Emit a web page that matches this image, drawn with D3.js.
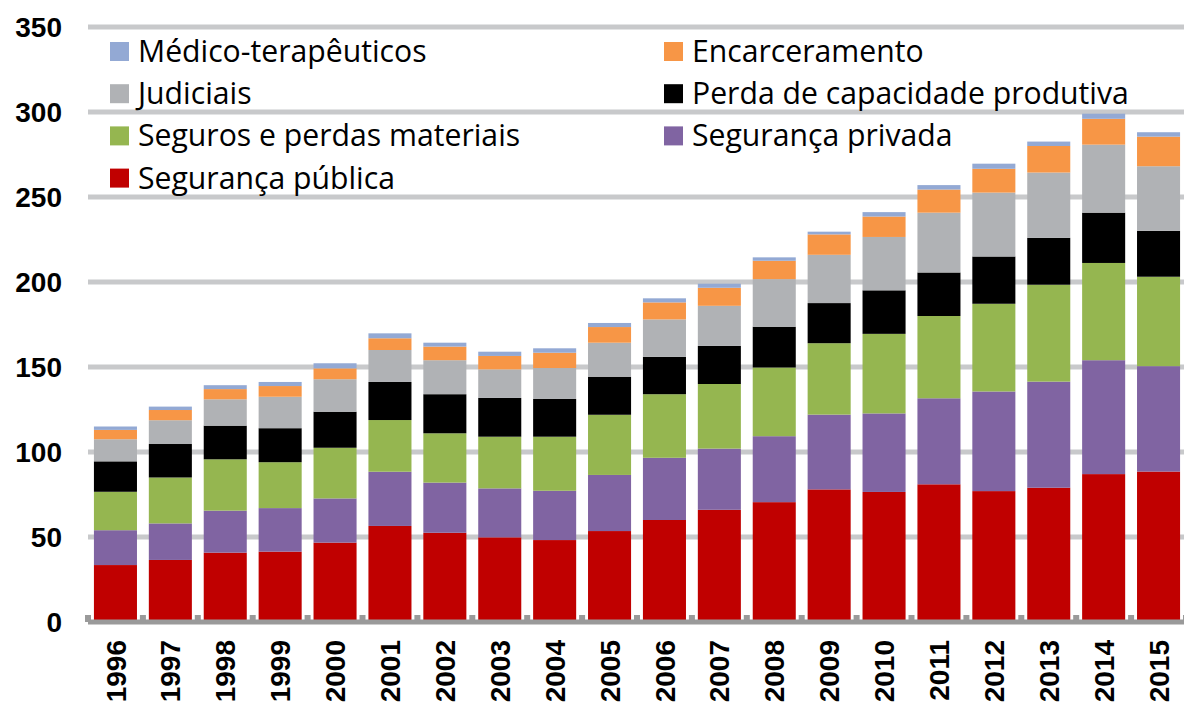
<!DOCTYPE html>
<html>
<head>
<meta charset="utf-8">
<script src="https://cdn.jsdelivr.net/npm/d3@7"></script>
<style>
  body { margin: 0; background: #fff; }
  svg { display: block; }
</style>
</head>
<body>
<svg id="chart" width="1184" height="706"></svg>
<script>
// anos
const years = ["1996", "1997", "1998", "1999", "2000", "2001", "2002", "2003", "2004", "2005",
  "2006", "2007", "2008", "2009", "2010", "2011", "2012", "2013", "2014", "2015"];

// series (bottom to top)
const segPublica = [33.5, 36.5, 40.8, 41.4, 46.7, 56.5, 52.5, 49.8, 48.2, 53.5, 60, 66, 70.5, 78, 76.5, 81, 77, 79, 87, 88.5];
const segPrivada = [20.5, 21.5, 24.7, 25.6, 26, 31.9, 29.5, 28.8, 29, 33, 36.6, 36, 38.8, 44, 46.2, 50.6, 58.6, 62.4, 67, 62];
const seguros = [22.6, 27, 30.2, 27, 29.8, 30.4, 29, 30.4, 31.8, 35.4, 37.4, 38, 40.4, 42, 46.8, 48.4, 51.6, 57, 57.2, 52.6];
const perda = [17.9, 19.7, 19.8, 20, 21.2, 22.4, 23, 22.8, 22.2, 22.4, 22, 22.4, 24, 23.6, 25.6, 25.6, 27.8, 27.6, 29.6, 27];
const judiciais = [13, 14, 15.5, 18.5, 19.1, 18.8, 20, 16.8, 18.2, 20, 22, 23.6, 28, 28.4, 31.4, 35.2, 37.6, 38.4, 40, 38];
const encarceramento = [5.5, 6, 6, 6.3, 6.4, 6.9, 8, 7.9, 9, 9.2, 10, 10.6, 10.8, 12, 12, 13.6, 14, 15.6, 15.2, 17.4];
const medico = [2, 2, 2.3, 2.4, 3, 2.9, 2.3, 2.5, 2.6, 2.4, 2.4, 2.4, 2, 1.6, 2.6, 2.6, 3, 2.6, 3, 2.6];

const yTicks = [0, 50, 100, 150, 200, 250, 300, 350];

const series = [
  { name: "Segurança pública", values: segPublica, color: "#c00000" },
  { name: "Segurança privada", values: segPrivada, color: "#8064a2" },
  { name: "Seguros e perdas materiais", values: seguros, color: "#95b650" },
  { name: "Perda de capacidade produtiva", values: perda, color: "#000000" },
  { name: "Judiciais", values: judiciais, color: "#b0b2b5" },
  { name: "Encarceramento", values: encarceramento, color: "#f79646" },
  { name: "Médico-terapêuticos", values: medico, color: "#93a9d4" }
];

// legend order as in the picture: two columns
const legendLeft = ["Médico-terapêuticos", "Judiciais", "Seguros e perdas materiais", "Segurança pública"];
const legendRight = ["Encarceramento", "Perda de capacidade produtiva", "Segurança privada"];

const svg = d3.select("#chart");
const plotLeft = 88, plotRight = 1186, plotTop = 27, plotBottom = 622;

const x = d3.scaleBand().domain(years).range([plotLeft, plotRight]).paddingInner(0.216).paddingOuter(0.108);
const y = d3.scaleLinear().domain([0, 350]).range([plotBottom, plotTop]);

// table for the stack
const table = years.map((yr, i) => {
  const row = { year: yr };
  series.forEach(s => { row[s.name] = s.values[i]; });
  return row;
});
const stacked = d3.stack().keys(series.map(s => s.name))(table);

// gridlines
svg.append("g")
  .selectAll("line")
  .data(yTicks.filter(t => t > 0))
  .join("line")
  .attr("x1", plotLeft)
  .attr("x2", 1184)
  .attr("y1", d => y(d))
  .attr("y2", d => y(d))
  .attr("stroke", "#c8c9cb")
  .attr("stroke-width", 5);

// y labels
svg.append("g")
  .selectAll("text")
  .data(yTicks)
  .join("text")
  .attr("x", 62)
  .attr("y", d => y(d))
  .attr("dy", "0.36em")
  .attr("text-anchor", "end")
  .attr("font-family", "Liberation Sans, Arial, sans-serif")
  .attr("font-weight", "bold")
  .attr("font-size", 28)
  .attr("fill", "#000")
  .text(d => d);

// bars
const colorOf = d3.scaleOrdinal().domain(series.map(s => s.name)).range(series.map(s => s.color));
svg.append("g")
  .selectAll("g")
  .data(stacked)
  .join("g")
  .attr("fill", d => colorOf(d.key))
  .selectAll("rect")
  .data(d => d)
  .join("rect")
  .attr("x", d => x(d.data.year))
  .attr("width", x.bandwidth())
  .attr("y", d => y(d[1]))
  .attr("height", d => y(d[0]) - y(d[1]));

// baseline axis with small ticks at band edges
const step = x.step();
const edges = years.map(yr => x(yr) - (step - x.bandwidth()) / 2).concat([plotRight]);
svg.append("line")
  .attr("x1", plotLeft)
  .attr("x2", 1184)
  .attr("y1", plotBottom)
  .attr("y2", plotBottom)
  .attr("stroke", "#9a9a9a")
  .attr("stroke-width", 5);
svg.append("g")
  .selectAll("rect")
  .data(edges)
  .join("rect")
  .attr("x", d => d - 3)
  .attr("y", plotBottom - 7)
  .attr("width", 6)
  .attr("height", 7)
  .attr("fill", "#9a9a9a");

// x labels rotated
svg.append("g")
  .selectAll("text")
  .data(years)
  .join("text")
  .attr("transform", d => `translate(${x(d) + x.bandwidth() / 2},640) rotate(-90)`)
  .attr("dy", "0.36em")
  .attr("text-anchor", "end")
  .attr("font-family", "Liberation Sans, Arial, sans-serif")
  .attr("font-weight", "bold")
  .attr("font-size", 28)
  .attr("fill", "#000")
  .text(d => d);

// legend
function drawLegend(names, sx, tx) {
  const g = svg.append("g");
  names.forEach((name, i) => {
    const cy = 51.5 + i * 42.2;
    g.append("rect")
      .attr("x", sx)
      .attr("y", cy - 9.5)
      .attr("width", 19)
      .attr("height", 19)
      .attr("fill", colorOf(name));
    g.append("text")
      .attr("class", "leg")
      .attr("x", tx)
      .attr("y", cy)
      .attr("dy", "0.35em")
      .attr("font-family", "Open Sans, sans-serif")
      .attr("font-size", 26)
      .attr("fill", "#000")
      .text(name);
  });
}
drawLegend(legendLeft, 110, 138);
drawLegend(legendRight, 664, 692);

// fit legend font to the width seen in the source
const probe = svg.selectAll("text.leg").filter(function () { return this.textContent === "Perda de capacidade produtiva"; });
const w = probe.node().getComputedTextLength();
const fs = 26 * 437 / w;
svg.selectAll("text.leg").attr("font-size", fs);
</script>
</body>
</html>
